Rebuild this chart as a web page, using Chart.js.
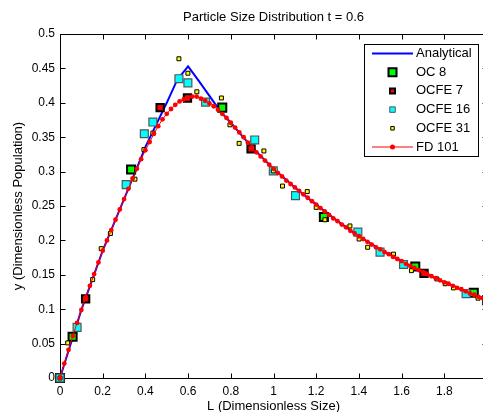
<!DOCTYPE html>
<html><head><meta charset="utf-8">
<script src="https://cdn.jsdelivr.net/npm/chart.js@4.4.0/dist/chart.umd.min.js"></script>
<style>
html,body{margin:0;padding:0;overflow:hidden;background:#fff;width:483px;height:412px}
#wrap{width:500px;height:412px}
</style>
</head><body><div id="wrap"><canvas id="c" width="500" height="412"></canvas></div>
<script>
// ---- data ----
const chartTitle = 'Particle Size Distribution t = 0.6';
const xTitle = 'L (Dimensionless Size)';
const yTitle = 'y (Dimensionless Population)';

const xTickValues = [0, 0.2, 0.4, 0.6, 0.8, 1, 1.2, 1.4, 1.6, 1.8, 2];
const xTickLabels = ['0', '0.2', '0.4', '0.6', '0.8', '1', '1.2', '1.4', '1.6', '1.8', '2'];
const yTickValues = [0, 0.05, 0.1, 0.15, 0.2, 0.25, 0.3, 0.35, 0.4, 0.45, 0.5];
const yTickLabels = ['0', '0.05', '0.1', '0.15', '0.2', '0.25', '0.3', '0.35', '0.4', '0.45', '0.5'];

const analyticalL = [0, 0.1, 0.2, 0.3, 0.36, 0.40, 0.45, 0.50, 0.55, 0.60, 0.65, 0.70, 0.75, 0.80, 0.85, 0.90, 1.0, 1.1, 1.2, 1.3, 1.4, 1.5, 1.6, 1.7, 1.8, 1.9, 2.0];
const analyticalY = [0, 0.099, 0.185, 0.260, 0.305, 0.336, 0.368, 0.400, 0.434, 0.453, 0.432, 0.410, 0.388, 0.371, 0.353, 0.335, 0.304, 0.277, 0.252, 0.228, 0.206, 0.187, 0.170, 0.154, 0.139, 0.126, 0.113];

const oc8L = [0, 0.059, 0.333, 0.760, 1.236, 1.664, 1.938, 2.0];
const oc8Y = [0, 0.060, 0.303, 0.393, 0.234, 0.162, 0.124, 0.113];

const ocfe7L = [0, 0.120, 0.469, 0.597, 0.895, 1.705, 2.0];
const ocfe7Y = [0, 0.115, 0.393, 0.407, 0.333, 0.152, 0.113];

const ocfe16L = [0, 0.080, 0.310, 0.395, 0.435, 0.557, 0.599, 0.682, 0.912, 0.999, 1.103, 1.395, 1.499, 1.609, 1.902, 2.0];
const ocfe16Y = [0, 0.0736, 0.281, 0.355, 0.372, 0.435, 0.429, 0.401, 0.346, 0.301, 0.265, 0.212, 0.183, 0.165, 0.1225, 0.113];

const ocfe31L = [0, 0.036, 0.153, 0.193, 0.236, 0.351, 0.393, 0.435, 0.557, 0.599, 0.641, 0.756, 0.796, 0.839, 0.955, 0.999, 1.042, 1.158, 1.200, 1.241, 1.358, 1.401, 1.441, 1.562, 1.646, 1.765, 1.804, 1.843, 1.958, 2.0];
const ocfe31Y = [0, 0.051, 0.143, 0.188, 0.210, 0.289, 0.332, 0.356, 0.464, 0.443, 0.416, 0.407, 0.368, 0.341, 0.330, 0.301, 0.279, 0.271, 0.248, 0.230, 0.221, 0.202, 0.190, 0.180, 0.156, 0.144, 0.137, 0.131, 0.116, 0.113];

const fdL = [0, 0.02, 0.04, 0.06, 0.08, 0.10, 0.12, 0.14, 0.16, 0.18, 0.20, 0.22, 0.24, 0.26, 0.28, 0.30, 0.32, 0.34, 0.36, 0.38,
  0.40, 0.42, 0.44, 0.46, 0.48, 0.50, 0.52, 0.54, 0.56, 0.58, 0.60, 0.62, 0.64, 0.66, 0.68, 0.70, 0.72, 0.74, 0.76, 0.78,
  0.80, 0.82, 0.84, 0.86, 0.88, 0.90, 0.92, 0.94, 0.96, 0.98, 1.00, 1.02, 1.04, 1.06, 1.08, 1.10, 1.12, 1.14, 1.16, 1.18,
  1.20, 1.22, 1.24, 1.26, 1.28, 1.30, 1.32, 1.34, 1.36, 1.38, 1.40, 1.42, 1.44, 1.46, 1.48, 1.50, 1.52, 1.54, 1.56, 1.58,
  1.60, 1.62, 1.64, 1.66, 1.68, 1.70, 1.72, 1.74, 1.76, 1.78, 1.80, 1.82, 1.84, 1.86, 1.88, 1.90, 1.92, 1.94, 1.96, 1.98, 2.00];
const fdY = [0.000, 0.021, 0.041, 0.061, 0.080, 0.099, 0.117, 0.134, 0.151, 0.168, 0.185, 0.200, 0.215, 0.230, 0.245, 0.260, 0.275, 0.290, 0.304, 0.318,
  0.331, 0.343, 0.355, 0.366, 0.376, 0.384, 0.391, 0.397, 0.402, 0.405, 0.407, 0.409, 0.409, 0.406, 0.403, 0.399, 0.395, 0.390, 0.384, 0.378,
  0.371, 0.364, 0.357, 0.350, 0.342, 0.335, 0.328, 0.322, 0.316, 0.310, 0.304, 0.298, 0.293, 0.287, 0.282, 0.277, 0.272, 0.267, 0.262, 0.257,
  0.252, 0.247, 0.242, 0.237, 0.232, 0.228, 0.223, 0.219, 0.214, 0.210, 0.206, 0.202, 0.198, 0.194, 0.190, 0.187, 0.183, 0.180, 0.176, 0.173,
  0.170, 0.166, 0.163, 0.160, 0.157, 0.154, 0.151, 0.148, 0.145, 0.142, 0.139, 0.137, 0.134, 0.131, 0.129, 0.126, 0.123, 0.121, 0.118, 0.116, 0.113];

const pts = (xs, ys) => xs.map((x, i) => ({x: x, y: ys[i]}));

// ---- plugins ----
const axesBox = {
  id: 'axesBox',
  beforeDatasetsDraw(chart) {
    const {ctx, chartArea: a, scales: {x, y}} = chart;
    const L = Math.round(a.left) + 0.5, R = Math.round(a.right) + 0.5;
    const T = Math.round(a.top) + 0.5, B = Math.round(a.bottom) + 0.5;
    ctx.save();
    ctx.strokeStyle = '#000'; ctx.lineWidth = 1;
    ctx.strokeRect(L, T, R - L, B - T);
    ctx.beginPath();
    x.ticks.forEach(t => {
      const px = Math.round(x.getPixelForValue(t.value)) + 0.5;
      ctx.moveTo(px, B); ctx.lineTo(px, B - 5);
      ctx.moveTo(px, T); ctx.lineTo(px, T + 5);
    });
    y.ticks.forEach(t => {
      const py = Math.round(y.getPixelForValue(t.value)) + 0.5;
      ctx.moveTo(L, py); ctx.lineTo(L + 5, py);
      ctx.moveTo(R, py); ctx.lineTo(R - 5, py);
    });
    ctx.stroke();
    ctx.restore();
  }
};

const legendBox = {
  id: 'legendBox',
  afterDraw(chart) {
    const ctx = chart.ctx;
    const x0 = 364.5, y0 = 44.5, w = 114, h = 112;
    const rowY0 = 53.5, rowDy = 18.7;
    const lineX0 = 372, lineX1 = 413, cx = 392.5, textX = 416;
    const marker = [null, {s: 8, lw: 2}, {s: 5, lw: 2}, {s: 5.5, lw: 1}, {s: 3.5, lw: 1}, null];
    ctx.save();
    ctx.fillStyle = '#fff'; ctx.fillRect(x0, y0, w, h);
    ctx.strokeStyle = '#000'; ctx.lineWidth = 1; ctx.strokeRect(x0, y0, w, h);
    chart.data.datasets.forEach((ds, i) => {
      const cy = rowY0 + i * rowDy;
      if (ds.showLine) {
        ctx.strokeStyle = ds.borderColor; ctx.lineWidth = ds.borderWidth;
        ctx.beginPath(); ctx.moveTo(lineX0, cy); ctx.lineTo(lineX1, cy); ctx.stroke();
        if (ds.pointRadius > 0) {
          ctx.fillStyle = ds.pointBackgroundColor;
          ctx.beginPath(); ctx.arc(cx, cy, 2.5, 0, Math.PI * 2); ctx.fill();
        }
      } else {
        const m = marker[i];
        ctx.fillStyle = ds.pointBackgroundColor;
        ctx.strokeStyle = ds.pointBorderColor; ctx.lineWidth = m.lw;
        ctx.beginPath(); ctx.rect(cx - m.s / 2, cy - m.s / 2, m.s, m.s);
        ctx.fill(); ctx.stroke();
      }
      ctx.fillStyle = '#000';
      ctx.font = '13px "Liberation Sans", Arial, sans-serif';
      ctx.textAlign = 'left'; ctx.textBaseline = 'middle';
      ctx.fillText(ds.label, textX, cy);
    });
    ctx.restore();
  }
};

Chart.defaults.font.family = '"Liberation Sans", Arial, Helvetica, sans-serif';
Chart.defaults.color = '#000';

new Chart(document.getElementById('c'), {
  type: 'scatter',
  data: {
    datasets: [
      {label: 'Analytical', data: pts(analyticalL, analyticalY), showLine: true, borderColor: '#0000ff', borderWidth: 2,
       pointRadius: 0, pointBackgroundColor: '#0000ff', order: 5, clip: false},
      {label: 'OC 8', data: pts(oc8L, oc8Y), showLine: false, pointStyle: 'rect', pointRadius: 5.7,
       pointBackgroundColor: '#00ff00', pointBorderColor: '#000', pointBorderWidth: 2, order: 4, clip: false},
      {label: 'OCFE 7', data: pts(ocfe7L, ocfe7Y), showLine: false, pointStyle: 'rect', pointRadius: 5.2,
       pointBackgroundColor: '#ff0000', pointBorderColor: '#000', pointBorderWidth: 2, order: 3, clip: false},
      {label: 'OCFE 16', data: pts(ocfe16L, ocfe16Y), showLine: false, pointStyle: 'rect', pointRadius: 5.6,
       pointBackgroundColor: '#00ffff', pointBorderColor: '#555555', pointBorderWidth: 1.2, order: 2, clip: false},
      {label: 'OCFE 31', data: pts(ocfe31L, ocfe31Y), showLine: false, pointStyle: 'rect', pointRadius: 2.8,
       pointBackgroundColor: '#ffff00', pointBorderColor: '#000', pointBorderWidth: 1, order: 1, clip: false},
      {label: 'FD 101', data: pts(fdL, fdY), showLine: true, borderColor: '#ff0000', borderWidth: 1,
       pointStyle: 'circle', pointRadius: 2.4, pointBorderWidth: 0, pointBackgroundColor: '#ff0000', pointBorderColor: '#ff0000',
       order: 0, clip: false}
    ]
  },
  options: {
    responsive: false,
    animation: false,
    devicePixelRatio: 1,
    layout: {padding: {left: 0, right: 13, top: 0, bottom: 0}},
    plugins: {
      legend: {display: false},
      tooltip: {enabled: false},
      title: {display: true, text: chartTitle, fullSize: false, color: '#000',
        font: {size: 13, weight: 'normal'}, padding: {top: 10, bottom: 8.4}}
    },
    scales: {
      x: {
        type: 'linear', min: 0, max: 2,
        afterBuildTicks: s => { s.ticks = xTickValues.map(v => ({value: v})); },
        afterFit: s => { s.height = 34; },
        grid: {display: false, drawTicks: false},
        border: {display: false},
        ticks: {autoSkip: false, maxRotation: 0, padding: 6, font: {size: 12}, color: '#000',
          callback: (v, i) => xTickLabels[i]},
        title: {display: true, text: xTitle, font: {size: 13}, color: '#000', padding: {top: 0, bottom: -2}}
      },
      y: {
        type: 'linear', min: 0, max: 0.5,
        afterBuildTicks: s => { s.ticks = yTickValues.map(v => ({value: v})); },
        afterFit: s => { s.width = 60; },
        grid: {display: false, drawTicks: false},
        border: {display: false},
        ticks: {autoSkip: false, padding: 5, font: {size: 12}, color: '#000',
          callback: (v, i) => yTickLabels[i]},
        title: {display: true, text: yTitle, font: {size: 13}, color: '#000', padding: {top: 10.5, bottom: 0}}
      }
    }
  },
  plugins: [axesBox, legendBox]
});
</script>
</body></html>
